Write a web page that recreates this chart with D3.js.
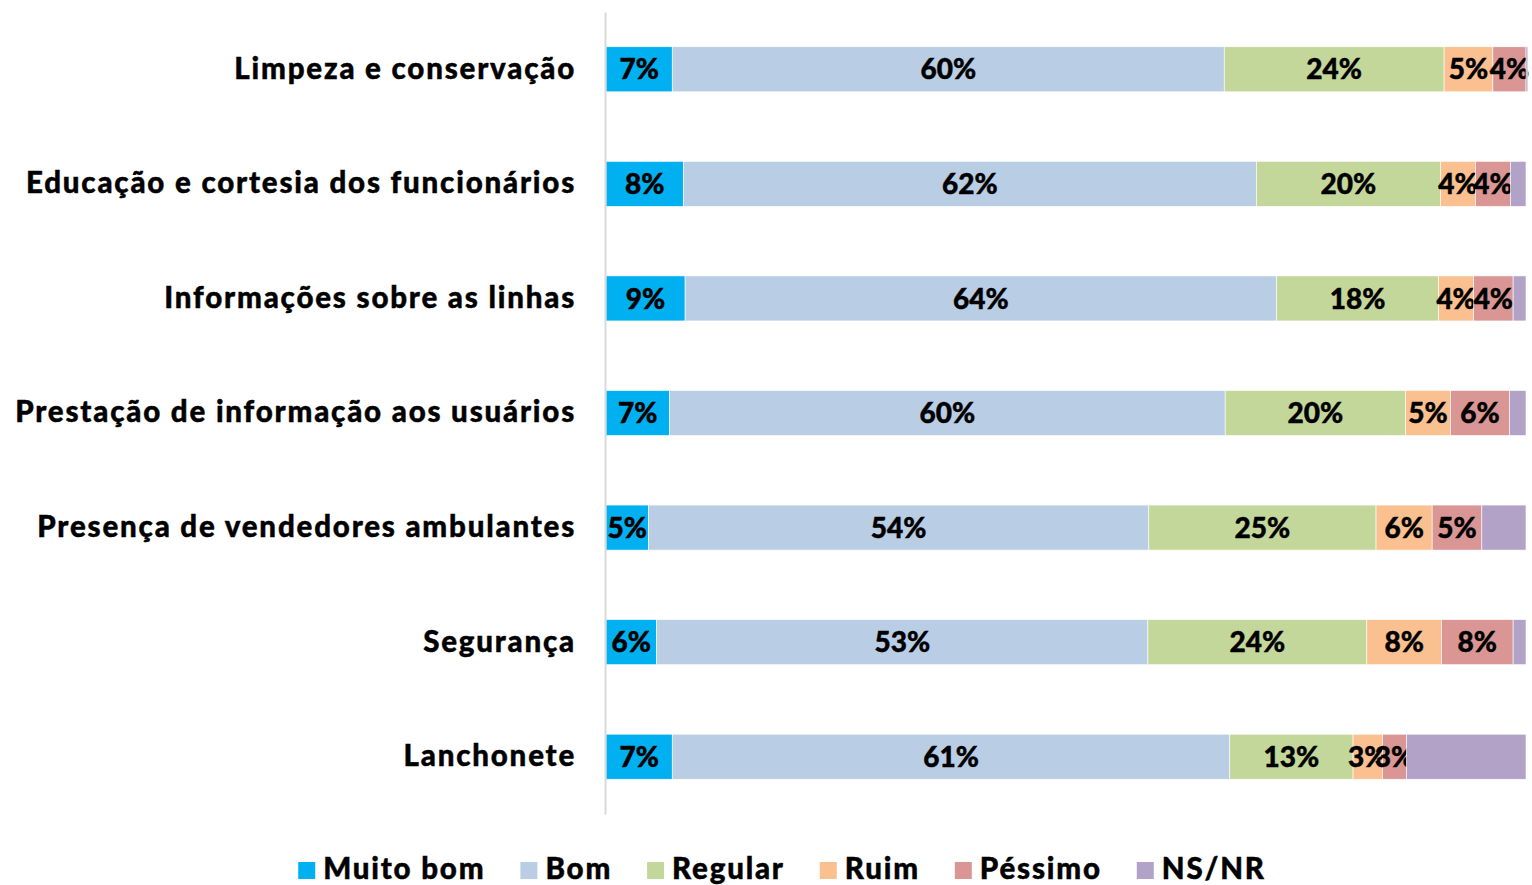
<!DOCTYPE html>
<html>
<head>
<meta charset="utf-8">
<script src="https://cdn.jsdelivr.net/npm/d3@7/dist/d3.min.js"></script>
<style>
  html, body { margin: 0; padding: 0; background: #fff; }
  svg { display: block; }
  text { font-family: Lato, "Open Sans", sans-serif; font-weight: 900; fill: #000; stroke: #000; stroke-width: 0.45px; }
</style>
</head>
<body>
<svg id="chart" width="1532" height="885"></svg>
<script>
// ---- data ----
const categories = [
  "Limpeza e conservação",
  "Educação e cortesia dos funcionários",
  "Informações sobre as linhas",
  "Prestação de informação aos usuários",
  "Presença de vendedores ambulantes",
  "Segurança",
  "Lanchonete"
];
const seriesNames = ["Muito bom", "Bom", "Regular", "Ruim", "Péssimo", "NS/NR"];
const muitoBom = [7.2, 8.4, 8.6, 6.9, 4.6, 5.5, 7.2];
const bom      = [60.0, 62.3, 64.3, 60.4, 54.4, 53.4, 60.6];
const regular  = [23.9, 20.0, 17.6, 19.6, 24.7, 23.8, 13.4];
const ruim     = [5.3, 3.8, 3.8, 4.9, 6.1, 8.1, 3.2];
const pessimo  = [3.6, 3.8, 4.3, 6.4, 5.4, 7.8, 2.6];
const nsnr     = [0.2, 1.7, 1.4, 1.8, 4.8, 1.4, 13.0];
const seriesValues = [muitoBom, bom, regular, ruim, pessimo, nsnr];
const showLabel = [true, true, true, true, true, false];
const colors = ["#00B0F0", "#B9CDE5", "#C4D79B", "#FAC090", "#DA9694", "#B3A2C7"];

// ---- build table ----
const table = categories.map((c, i) => {
  const row = { category: c };
  seriesNames.forEach((s, j) => row[s] = seriesValues[j][i]);
  return row;
});
const stacked = d3.stack().keys(seriesNames)(table);

const svg = d3.select("#chart");
const x = d3.scaleLinear().domain([0, 100]).range([606, 1526]);
const y = d3.scaleBand().domain(categories).range([12, 814])
  .paddingInner(0.607).paddingOuter(0.3035);

// bars
const layers = svg.append("g").selectAll("g")
  .data(stacked).join("g")
  .attr("fill", (d, i) => colors[i]);

layers.selectAll("rect")
  .data(d => d.map(v => ({ v, cat: v.data.category })))
  .join("rect")
  .attr("x", d => x(d.v[0]))
  .attr("width", d => x(d.v[1]) - x(d.v[0]))
  .attr("y", d => y(d.cat))
  .attr("height", y.bandwidth())
  .attr("stroke", "#ffffff")
  .attr("stroke-width", 0.6);

// labels
layers.each(function(layer, i) {
  if (!showLabel[i]) return;
  d3.select(this).selectAll("text")
    .data(layer)
    .join("text")
    .attr("x", d => (x(d[0]) + x(d[1])) / 2)
    .attr("y", d => y(d.data.category) + y.bandwidth() / 2)
    .attr("dy", "0.36em")
    .attr("text-anchor", "middle")
    .style("font-size", "28px")
    .text(d => Math.round(d[1] - d[0]) + "%");
});

// y axis
const yAxis = svg.append("g")
  .attr("transform", "translate(605,0)")
  .call(d3.axisLeft(y).tickSize(0).tickPadding(29));
yAxis.select(".domain").attr("stroke", "#D9D9D9").attr("stroke-width", 2);
yAxis.selectAll("text")
  .style("font-size", "29.5px")
  .style("letter-spacing", "1.8px")
  .style("font-family", "Lato, 'Open Sans', sans-serif")
  .style("font-weight", "900")
  .attr("fill", "#000");

// legend
const legend = svg.append("g").attr("class", "legend");
const items = legend.selectAll("g").data(seriesNames).join("g");
items.append("rect")
  .attr("width", 17).attr("height", 17)
  .attr("y", -17)
  .attr("fill", (d, i) => colors[i]);
items.append("text")
  .attr("x", 25)
  .style("font-size", "29.5px")
  .style("letter-spacing", "1.8px")
  .text(d => d);
const gap = 35;
const widths = [];
items.each(function() {
  const w = 25 + this.querySelector("text").getComputedTextLength();
  widths.push(w);
});
const total = d3.sum(widths) + gap * (widths.length - 1);
const start = 782 - total / 2;
items.attr("transform", (d, i) => {
  const tx = start + d3.sum(widths.slice(0, i)) + gap * i;
  return `translate(${tx},879)`;
});
</script>
</body>
</html>
